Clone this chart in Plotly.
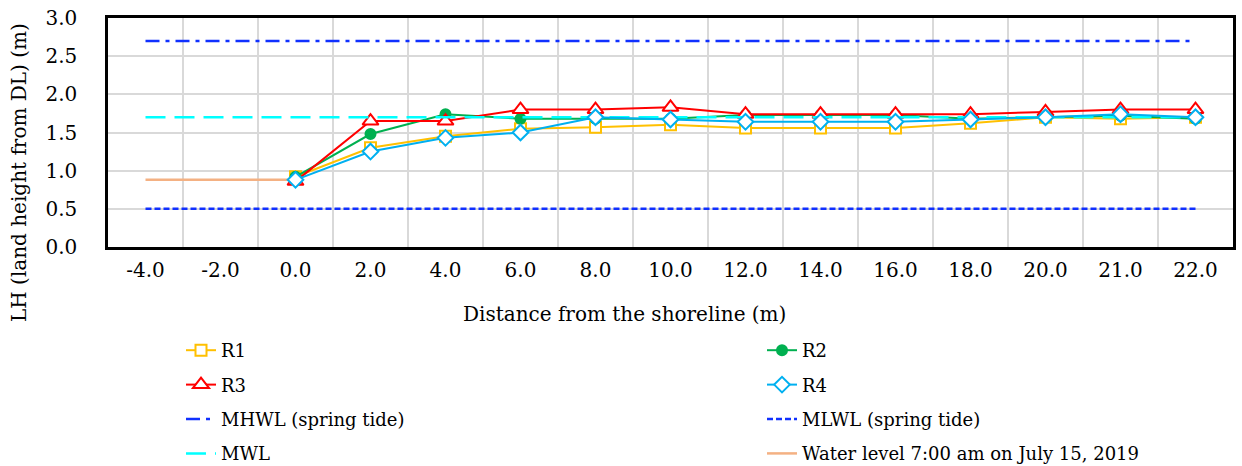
import plotly.graph_objects as go

# ---- data ----
categories = ["-4.0", "-2.0", "0.0", "2.0", "4.0", "6.0", "8.0", "10.0",
              "12.0", "14.0", "16.0", "18.0", "20.0", "21.0", "22.0"]
profile_x = categories[2:]
r1 = [0.92, 1.30, 1.45, 1.55, 1.57, 1.60, 1.56, 1.56, 1.56, 1.62, 1.70, 1.68, 1.70]
r2 = [0.92, 1.48, 1.74, 1.68, 1.68, 1.68, 1.73, 1.73, 1.73, 1.68, 1.70, 1.72, 1.68]
r3 = [0.86, 1.65, 1.65, 1.80, 1.80, 1.83, 1.74, 1.74, 1.74, 1.74, 1.77, 1.80, 1.80]
r4 = [0.88, 1.25, 1.43, 1.50, 1.70, 1.67, 1.64, 1.64, 1.64, 1.67, 1.70, 1.74, 1.70]
mhwl_level = 2.70
mlwl_level = 0.50
mwl_level = 1.70
water_x = categories[:3]
water_level = 0.88

FONT = "DejaVu Serif"
PLOT_L, PLOT_R, PLOT_T, PLOT_B = 108, 1233, 18, 247
PW, PH = PLOT_R - PLOT_L, PLOT_B - PLOT_T

def px_x(x):
    return (x - PLOT_L) / PW

def px_y(y):
    return (PLOT_B - y) / PH

fig = go.Figure()

def ref_line(name, xs, level, color, dash, rank, legend, width=2.5):
    return go.Scatter(x=xs, y=[level] * len(xs), mode="lines", name=name,
                      line=dict(color=color, width=width, dash=dash),
                      legendrank=rank, legend=legend, legendgroup=name)

def series(name, ys, color, symbol, size, fill, rank, legend):
    return go.Scatter(x=profile_x, y=ys, mode="lines+markers", name=name,
                      line=dict(color=color, width=2),
                      marker=dict(symbol=symbol, size=size, color=fill,
                                  line=dict(color=color, width=2)),
                      legendrank=rank, legend=legend, legendgroup=name)

# drawing order (bottom -> top)
fig.add_trace(ref_line("Water level 7:00 am on July 15, 2019", water_x, water_level,
                       "#F4B183", "solid", 4, "legend2"))
fig.add_trace(ref_line("MLWL (spring tide)", categories, mlwl_level, "#1030FF",
                       "6px,3px", 3, "legend2"))
fig.add_trace(ref_line("MHWL (spring tide)", categories, mhwl_level, "#1030FF",
                       "14px,6px,4px,6px", 3, "legend"))
fig.add_trace(series("R1", r1, "#FFC000", "square", 11, "white", 1, "legend"))
fig.add_trace(series("R2", r2, "#00B050", "circle", 10, "#00B050", 1, "legend2"))
fig.add_trace(series("R3", r3, "#FF0000", "triangle-up", 14, "white", 2, "legend"))
fig.add_trace(ref_line("MWL", categories, mwl_level, "#00FFFF", "20px,9px", 4, "legend"))
fig.add_trace(series("R4", r4, "#00B0F0", "diamond", 12, "white", 2, "legend2"))

legend_common = dict(font=dict(family=FONT, size=18, color="black"),
                     orientation="v", tracegroupgap=8, bgcolor="rgba(0,0,0,0)",
                     xref="paper", yref="paper", xanchor="left", yanchor="top",
                     traceorder="grouped")

fig.update_layout(
    width=1242, height=466,
    margin=dict(l=PLOT_L, r=1242 - PLOT_R, t=PLOT_T, b=466 - PLOT_B, autoexpand=False),
    paper_bgcolor="white", plot_bgcolor="white",
    font=dict(family=FONT, size=20, color="black"),
    legend=dict(x=px_x(181), y=px_y(332), **legend_common),
    legend2=dict(x=px_x(762), y=px_y(332), **legend_common),
    xaxis=dict(type="category", categoryorder="array", categoryarray=categories,
               range=[-0.5, len(categories) - 0.5], tickson="boundaries",
               showgrid=True, gridcolor="#D9D9D9", gridwidth=2,
               showline=True, linecolor="black", linewidth=2.5, mirror=True,
               ticks="", ticklabelstandoff=3, automargin=False,
               tickfont=dict(family=FONT, size=20, color="black")),
    yaxis=dict(range=[0, 3.0], dtick=0.5, tickformat=".1f",
               showgrid=True, gridcolor="#D9D9D9", gridwidth=2,
               showline=True, linecolor="black", linewidth=2.5, mirror=True,
               zeroline=False, ticks="", ticklabelstandoff=24, automargin=False,
               tickfont=dict(family=FONT, size=20, color="black")),
    annotations=[
        dict(text="Distance from the shoreline (m)", xref="paper", yref="paper",
             x=px_x(624), y=px_y(314), xanchor="center", yanchor="middle",
             showarrow=False, font=dict(family=FONT, size=20, color="black")),
        dict(text="LH (land height from DL) (m)", xref="paper", yref="paper",
             x=px_x(19), y=px_y(173), xanchor="center", yanchor="middle",
             textangle=-90, showarrow=False, font=dict(family=FONT, size=20, color="black")),
    ],
)

fig.write_html("out.html")
